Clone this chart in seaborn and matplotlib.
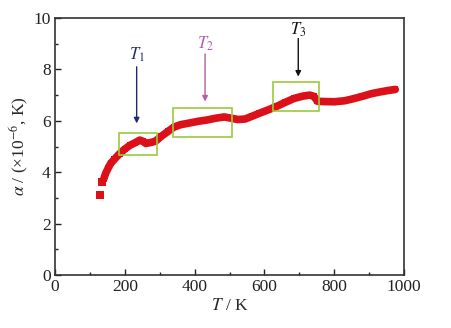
import matplotlib
matplotlib.use("Agg")
import matplotlib.pyplot as plt
from matplotlib.ticker import MultipleLocator
from matplotlib.patches import Rectangle
import seaborn as sns
import pandas as pd

# Thermal expansion coefficient vs temperature
temperature = [128, 135, 140, 145, 152, 160, 170, 185, 200, 215, 230, 243, 252, 260,
               272, 287, 305, 325, 340, 360, 380, 410, 435, 460, 485, 505, 525, 545,
               565, 585, 610, 635, 660, 685, 710, 730, 742, 752, 770, 800, 830, 855,
               880, 905, 930, 955, 975]
alpha = [3.1, 3.6, 3.75, 3.95, 4.15, 4.35, 4.5, 4.72, 4.9, 5.05, 5.15, 5.25, 5.2, 5.12,
         5.15, 5.2, 5.4, 5.6, 5.75, 5.85, 5.9, 5.98, 6.03, 6.1, 6.15, 6.1, 6.05, 6.07,
         6.18, 6.29, 6.42, 6.56, 6.72, 6.87, 6.96, 7.0, 6.95, 6.76, 6.75, 6.74, 6.78,
         6.86, 6.95, 7.05, 7.12, 7.18, 7.22]

# Transition regions (T range, alpha range)
box_t = [(184, 291), (337, 506), (625, 757)]
box_a = [(4.65, 5.54), (5.38, 6.49), (6.39, 7.52)]

# Arrow annotations: label, x position, arrow start, arrow end, label y, colour
arrow_labels = ["$T_1$", "$T_2$", "$T_3$"]
arrow_x = [234, 430, 697]
arrow_top = [8.1, 8.6, 9.2]
arrow_tip = [5.9, 6.75, 7.72]
label_y = [8.55, 9.0, 9.55]
arrow_colors = ["#1f2a6b", "#b25ea6", "#111111"]

sns.set_theme(style="ticks")
plt.rcParams["font.family"] = ["Liberation Serif", "DejaVu Serif"]
plt.rcParams["mathtext.fontset"] = "stix"

fig = plt.figure(figsize=(4.52, 3.28), dpi=100)
ax = fig.add_axes([55 / 452, 1 - 275 / 328, 349 / 452, 257 / 328])

df = pd.DataFrame({"T": temperature, "alpha": alpha})
red = "#dc1018"
sns.lineplot(data=df.iloc[2:], x="T", y="alpha", ax=ax, color=red, linewidth=5.5,
             marker="s", markersize=5, markeredgewidth=0, sort=False)
sns.scatterplot(data=df.iloc[:2], x="T", y="alpha", ax=ax, color=red, marker="s",
                s=36, linewidth=0)

for (t0, t1), (a0, a1) in zip(box_t, box_a):
    ax.add_patch(Rectangle((t0, a0), t1 - t0, a1 - a0, fill=False,
                           edgecolor="#9cc93e", linewidth=1.2, zorder=5))

for lab, x, top, tip, ly, c in zip(arrow_labels, arrow_x, arrow_top, arrow_tip,
                                    label_y, arrow_colors):
    ax.annotate("", xy=(x, tip), xytext=(x, top),
                arrowprops=dict(arrowstyle="-|>", color=c, lw=1.0,
                                mutation_scale=8, shrinkA=0, shrinkB=0))
    ax.text(x, ly, lab, color=c, ha="center", va="center", fontsize=12)

ax.set_xlim(0, 1000)
ax.set_ylim(0, 10)
ax.xaxis.set_major_locator(MultipleLocator(200))
ax.xaxis.set_minor_locator(MultipleLocator(100))
ax.yaxis.set_major_locator(MultipleLocator(2))
ax.yaxis.set_minor_locator(MultipleLocator(1))
ax.tick_params(which="both", direction="in", top=False, right=False,
               labelsize=12.5, colors="#222222", pad=3)
ax.tick_params(which="major", length=4, width=1)
ax.tick_params(which="minor", length=2.5, width=1)
for sp in ax.spines.values():
    sp.set_color("#333333")
    sp.set_linewidth(1.2)

ax.set_xlabel("$T$ / K", fontsize=12.5, labelpad=2)
ax.set_ylabel(r"$\alpha$ / (×10$^{-6}$, K)", fontsize=12.5, labelpad=2)

fig.savefig("out.png", dpi=100)
